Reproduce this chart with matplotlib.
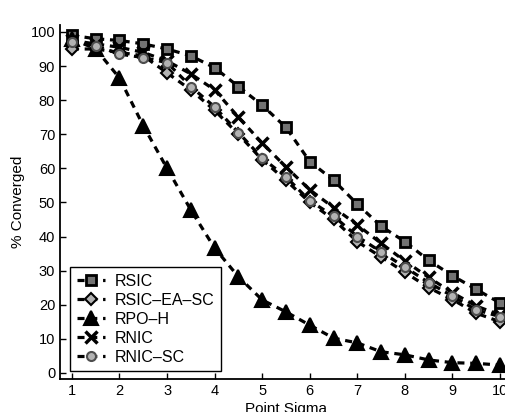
import numpy as np
import matplotlib
matplotlib.use("Agg")
import matplotlib.pyplot as plt

plt.rcParams['font.family'] = ['Liberation Sans', 'DejaVu Sans']

sigma = [1, 1.5, 2, 2.5, 3, 3.5, 4, 4.5, 5, 5.5, 6, 6.5, 7, 7.5, 8, 8.5, 9, 9.5, 10]

rsic = [99, 98, 97.5, 96.5, 95, 93, 89.5, 84, 78.5, 72, 62, 56.5, 49.5, 43, 38.5, 33, 28.5, 24.5, 20.5]
rsic_ea_sc = [95, 95, 94, 93, 88, 83, 77, 70, 62.5, 56.5, 50, 45, 38.5, 34, 29.5, 25, 21.5, 17.5, 15]
rpo_h = [98, 95, 86.5, 72.5, 60, 47.8, 36.6, 28.2, 21.4, 17.9, 14, 10.2, 8.8, 6.2, 5.3, 3.8, 3, 2.8, 2.3]
rnic = [97.5, 96.5, 95.5, 94, 91.5, 87.7, 83, 75, 67.4, 60.4, 53.7, 48.5, 43.4, 38, 32.8, 28, 23.5, 19.6, 17]
rnic_sc = [97, 96, 93.5, 92.5, 91, 84, 78, 70.5, 63, 57.5, 50.5, 46, 40, 35.5, 31, 26.5, 22.5, 18.5, 16.5]

labels = ['RSIC', 'RSIC\u2013EA\u2013SC', 'RPO\u2013H', 'RNIC', 'RNIC\u2013SC']

fig = plt.figure(figsize=(5.05, 4.12), dpi=100)
ax = fig.add_axes([0.1188, 0.080, 0.895, 0.859])

dash = (0, (2.2, 1.8))
lw = 2.3
ax.plot(sigma, rsic, linestyle=dash, color='black', lw=lw, marker='s', ms=6.5,
        mfc='0.45', mec='black', mew=2, label=labels[0])
ax.plot(sigma, rsic_ea_sc, linestyle=dash, color='black', lw=lw, marker='D', ms=6.5,
        mfc='0.7', mec='black', mew=1.5, label=labels[1])
ax.plot(sigma, rpo_h, linestyle=dash, color='black', lw=lw, marker='^', ms=10,
        mfc='black', mec='black', mew=1.5, label=labels[2])
ax.plot(sigma, rnic, linestyle=dash, color='black', lw=lw, marker='x', ms=9,
        mec='black', mew=2.5, label=labels[3])
ax.plot(sigma, rnic_sc, linestyle=dash, color='black', lw=lw, marker='o', ms=6.5,
        mfc='0.7', mec='0.3', mew=1.5, label=labels[4])

ax.set_xlim(0.75, 10.25)
ax.set_ylim(-1.8, 102)
ax.set_xticks(range(1, 11))
ax.set_yticks(range(0, 101, 10))
ax.tick_params(direction='in', length=4, width=1, labelsize=10.5)
for s in ['top', 'right']:
    ax.spines[s].set_visible(False)
for s in ['left', 'bottom']:
    ax.spines[s].set_linewidth(1.3)

ax.set_xlabel('Point Sigma', fontsize=11, labelpad=3)
ax.set_ylabel('% Converged', fontsize=11, labelpad=4)

leg = ax.legend(loc='lower left', bbox_to_anchor=(0.005, 0.0), fontsize=11.5,
                handlelength=1.8, handletextpad=0.6, borderpad=0.4,
                labelspacing=0.25, fancybox=False, edgecolor='black', framealpha=1)
leg.get_frame().set_linewidth(1.0)

fig.savefig('out.png', dpi=100)
